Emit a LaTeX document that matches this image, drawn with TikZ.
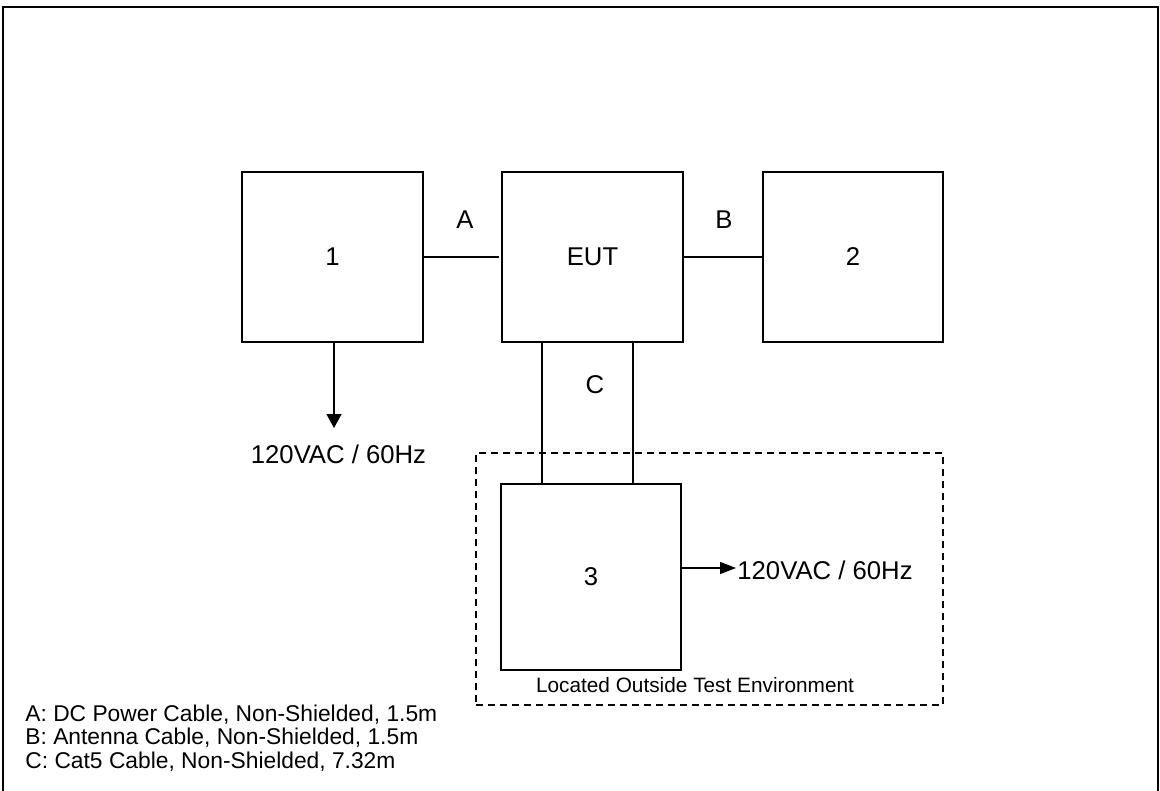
\documentclass[tikz,border=0pt]{standalone}
\usepackage{fontspec}
\setmainfont{Liberation Sans}
\usetikzlibrary{arrows.meta,calc}
\begin{document}
\begin{tikzpicture}[x=0.5pt,y=-0.5pt,
  unitbox/.style 2 args={draw,line width=0.7pt,inner sep=0pt,outer sep=0pt,minimum width=#1,minimum height=#2,font=\fontsize{12.85}{15}\selectfont},
  wire/.style={line width=0.7pt},
  mainlbl/.style={inner sep=0pt,font=\fontsize{12.85}{15}\selectfont},
  smalllbl/.style={inner sep=0pt,font=\fontsize{10.4}{12}\selectfont},
  bigtip/.style={-{Triangle[width=7.5pt,length=7pt]}},
  smalltip/.style={-{Triangle[width=6pt,length=8pt]}}]
\useasboundingbox (0,0) rectangle (1160,791);
% outer frame
\draw[line width=1pt] (3,791) -- (3,7) -- (1158,7) -- (1158,791);
% boxes
\node[unitbox={90.5pt}{85pt}] (b1) at (332.5,257) {1};
\node[unitbox={90.5pt}{85pt}] (eut) at (592.5,257) {EUT};
\node[unitbox={90pt}{85pt}] (b2) at (853,257) {2};
\node[draw,dashed,dash pattern=on 3.5pt off 2.5pt,line width=0.7pt,inner sep=0pt,minimum width=233.5pt,minimum height=126pt] (zone) at (709.5,579) {};
\node[unitbox={90pt}{93pt}] (b3) at (591,577) {3};
% cable labels
\node[mainlbl] (la) at (465,220) {A};
\node[mainlbl] (lb) at (724,220) {B};
\node[mainlbl] (lc) at (595,385) {C};
% cables
\draw[wire] (b1.east) -- ([xshift=-1.5pt]eut.west);
\draw[wire] (eut.east) -- (b2.west);
\coordinate (cl) at (542,0);
\coordinate (cr) at (633,0);
\draw[wire] (eut.south -| cl) -- (b3.north -| cl);
\draw[wire] (eut.south -| cr) -- (b3.north -| cr);
% power
\coordinate (p1) at (334,428);
\draw[wire,bigtip] (b1.south -| p1) -- (p1);
\node[mainlbl] (pw1) at (338.5,454) {120VAC / 60Hz};
\coordinate (p2) at (736,568);
\draw[wire,smalltip] (b3.east |- p2) -- (p2);
\node[mainlbl,anchor=west] (pw2) at (737,570) {120VAC / 60Hz};
% zone label
\node[smalllbl] (zl) at (695,685) {Located Outside Test Environment};
% legend
\node[inner sep=0pt,anchor=west,align=left,font=\fontsize{11.4}{11.65}\selectfont] (leg) at (25,738) {A: DC Power Cable, Non-Shielded, 1.5m\\B: Antenna Cable, Non-Shielded, 1.5m\\C: Cat5 Cable, Non-Shielded, 7.32m};
\end{tikzpicture}
\end{document}
